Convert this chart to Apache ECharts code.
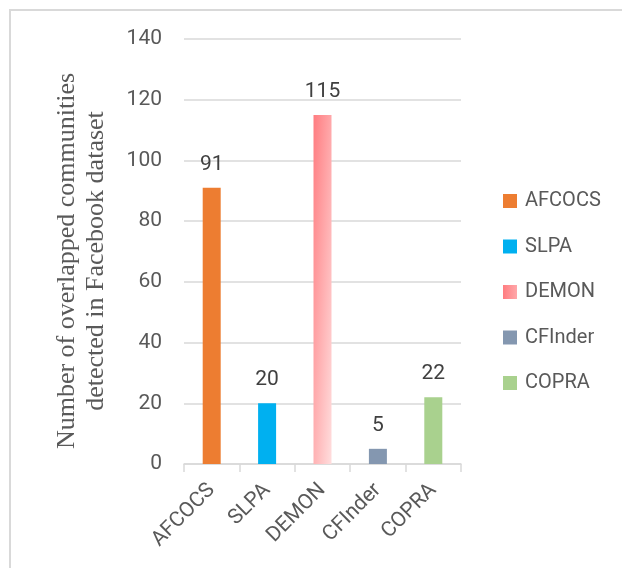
<!DOCTYPE html>
<html>
<head>
    <meta charset="UTF-8">
    <title></title>
    <script src="https://cdn.jsdelivr.net/npm/echarts@6/dist/echarts.min.js"></script>
</head>
<style>
    *{ padding: 0; margin: 0; }
    #main{ width: 622px; height: 568px; background: #fff; }
</style>
<body>
<div id="main"></div>
<script>
var categories = ['AFCOCS', 'SLPA', 'DEMON', 'CFInder', 'COPRA'];
var values = [91, 20, 115, 5, 22];
var yTicks = { min: 0, max: 140, interval: 20 };

// DEMON fill: deeper pink top-left, fading right and downward
var demonFill = new echarts.graphic.LinearGradient(0, 0, 2.24, 0.0074, [
    { offset: 0, color: '#FF7C80' },
    { offset: 1, color: '#FFDEDE' }
]);
var colors = ['#ED7D31', '#00B0F0', demonFill, '#8497B0', '#A9D18E'];

var font = 'Roboto';

// one series per method so the legend lists each of them
var series = categories.map(function (name, i) {
    var d = categories.map(function (c, j) { return j === i ? values[i] : null; });
    return {
        name: name,
        type: 'bar',
        stack: 'all',
        barWidth: 18,
        data: d,
        itemStyle: { color: colors[i] },
        label: {
            show: true,
            position: 'top',
            distance: 13,
            fontFamily: font,
            fontSize: 21,
            color: '#404040'
        }
    };
});

var myChart = echarts.init(document.getElementById('main'));
var option = {
    animation: false,
    grid: { left: 184, right: 161, top: 39, bottom: 104 },
    legend: {
        orient: 'vertical',
        left: 503,
        top: 191,
        padding: 0,
        itemWidth: 14,
        itemHeight: 14,
        itemGap: 25.5,
        icon: 'rect',
        textStyle: { fontFamily: font, fontSize: 20, lineHeight: 20, color: '#595959', padding: [0, 0, 0, 3] },
        data: categories
    },
    xAxis: {
        type: 'category',
        data: categories,
        axisLine: { lineStyle: { color: '#d9d9d9', width: 1.5 } },
        axisTick: { show: true, length: 8, lineStyle: { color: '#d9d9d9', width: 1.5 } },
        axisLabel: {
            rotate: 45,
            margin: 23,
            fontFamily: font,
            fontSize: 21,
            color: '#595959'
        }
    },
    yAxis: {
        type: 'value',
        min: yTicks.min,
        max: yTicks.max,
        interval: yTicks.interval,
        axisLine: { show: false },
        axisTick: { show: false },
        splitLine: { lineStyle: { color: '#d9d9d9', width: 1.5 } },
        axisLabel: { margin: 22, fontFamily: font, fontSize: 21, color: '#595959' }
    },
    graphic: [
        {
            type: 'rect',
            shape: { x: 10, y: 10, width: 700, height: 700 },
            style: { fill: 'none', stroke: '#d9d9d9', lineWidth: 2 },
            silent: true
        },
        {
            type: 'text',
            x: 82,
            y: 261,
            rotation: Math.PI / 2,
            style: {
                text: 'Number of overlapped communities\ndetected in Facebook dataset',
                fontFamily: 'Liberation Serif',
                fontSize: 26,
                lineHeight: 29,
                fill: '#595959',
                align: 'center',
                verticalAlign: 'middle'
            }
        }
    ],
    series: series
};
myChart.setOption(option);
</script>
</body>
</html>
